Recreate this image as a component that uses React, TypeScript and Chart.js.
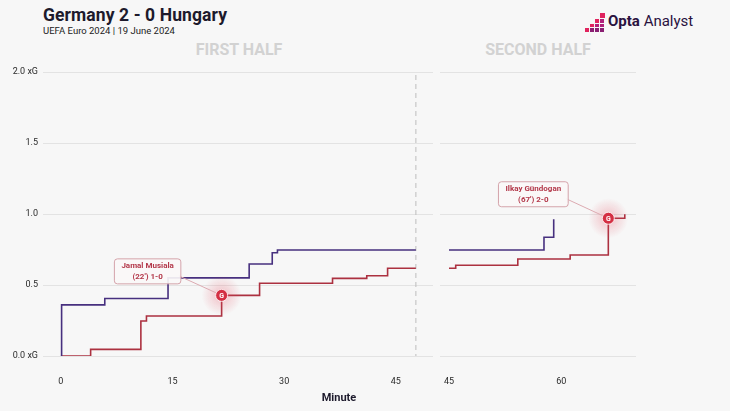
import React, { useEffect, useRef } from 'react';
import { Chart, registerables } from 'chart.js';

Chart.register(...registerables);

const FONT = 'Roboto, "Noto Sans", sans-serif';

// ---- data ----
const yTickValues = [0, 0.5, 1, 1.5, 2];
const firstHalfTicks = [0, 15, 30, 45];
const secondHalfTicks = [45, 60];

const firstHalfRange = [-2.4, 50];
const secondHalfRange = [43.8, 70];
const firstHalfEnd = 47.7;

const hungaryMin1 = [0, 0.1, 5.9, 14.4, 25.3, 28.4, 29.1, 47.7];
const hungaryXg1 = [0, 0.36, 0.405, 0.55, 0.648, 0.727, 0.746, 0.746];
const germanyMin1 = [0, 4.0, 10.75, 11.5, 21.6, 26.7, 36.5, 41.1, 43.9, 47.7];
const germanyXg1 = [0, 0.047, 0.246, 0.282, 0.427, 0.512, 0.547, 0.565, 0.618, 0.618];

const hungaryMin2 = [45, 57.7, 59.0];
const hungaryXg2 = [0.746, 0.836, 0.963];
const germanyMin2 = [45, 45.9, 54.2, 61.2, 66.3, 68.5];
const germanyXg2 = [0.618, 0.639, 0.683, 0.711, 0.97, 0.998];

const goalsFirst = [{ minute: 21.6, xg: 0.427, name: 'Jamal Musiala', detail: "(22') 1-0", dx: -74, dy: -24 }];
const goalsSecond = [{ minute: 66.3, xg: 0.97, name: 'Ilkay Gündogan', detail: "(67') 2-0", dx: -75, dy: -24 }];

const GERMANY = '#ac3140';
const HUNGARY = '#47307f';

function pts(mins: number[], vals: number[]) {
  return mins.map((m, i) => ({ x: m, y: vals[i] }));
}

function goalPlugin(goals: any[], halfEnd: number | null) {
  return {
    id: 'goalsAndDivider',
    beforeDatasetsDraw(chart: any) {
      if (halfEnd === null) return;
      const { ctx, scales, chartArea } = chart;
      const px = scales.x.getPixelForValue(halfEnd);
      ctx.save();
      ctx.strokeStyle = '#bdbdbd';
      ctx.lineWidth = 1;
      ctx.setLineDash([5, 4]);
      ctx.beginPath();
      ctx.moveTo(px, chartArea.top + 3);
      ctx.lineTo(px, chartArea.bottom);
      ctx.stroke();
      ctx.restore();
    },
    afterDatasetsDraw(chart: any) {
      const { ctx, scales } = chart;
      goals.forEach((g) => {
        const px = scales.x.getPixelForValue(g.minute);
        const py = scales.y.getPixelForValue(g.xg);
        ctx.save();
        // glow
        const grad = ctx.createRadialGradient(px, py, 0, px, py, 20);
        grad.addColorStop(0, 'rgba(228,70,90,0.32)');
        grad.addColorStop(1, 'rgba(228,70,90,0)');
        ctx.fillStyle = grad;
        ctx.beginPath();
        ctx.arc(px, py, 20, 0, Math.PI * 2);
        ctx.fill();
        // box
        ctx.font = `bold 8px ${FONT}`;
        const w = Math.max(ctx.measureText(g.name).width, ctx.measureText(g.detail).width) + 14;
        const h = 25;
        const cx = px + g.dx;
        const cy = py + g.dy;
        const bx = cx - w / 2;
        const by = cy - h / 2;
        // connector
        ctx.strokeStyle = '#dcaab1';
        ctx.lineWidth = 1;
        ctx.beginPath();
        ctx.moveTo(bx + w - 2, by + h - 8);
        ctx.lineTo(px, py);
        ctx.stroke();
        ctx.fillStyle = 'rgba(250,247,247,0.92)';
        ctx.strokeStyle = '#d4a3aa';
        ctx.beginPath();
        ctx.roundRect(bx, by, w, h, 3);
        ctx.fill();
        ctx.stroke();
        ctx.fillStyle = '#b3384a';
        ctx.textAlign = 'center';
        ctx.textBaseline = 'middle';
        ctx.fillText(g.name, cx, cy - 5.5);
        ctx.fillText(g.detail, cx, cy + 6);
        // marker
        ctx.beginPath();
        ctx.arc(px, py, 6, 0, Math.PI * 2);
        ctx.fillStyle = '#d42f43';
        ctx.fill();
        ctx.strokeStyle = 'rgba(255,255,255,0.8)';
        ctx.lineWidth = 1;
        ctx.stroke();
        ctx.fillStyle = '#ffffff';
        ctx.font = `bold 7px ${FONT}`;
        ctx.fillText('G', px, py + 0.5);
        ctx.restore();
      });
    },
  };
}

function makeConfig(opts: {
  hMin: number[]; hXg: number[]; gMin: number[]; gXg: number[];
  range: number[]; ticks: number[]; showY: boolean; rightPad: number;
  goals: any[]; halfEnd: number | null;
}): any {
  return {
    type: 'line',
    data: {
      datasets: [
        {
          label: 'Hungary',
          data: pts(opts.hMin, opts.hXg),
          borderColor: HUNGARY,
          borderWidth: 1.6,
          stepped: 'before',
          pointRadius: 0,
          fill: false,
        },
        {
          label: 'Germany',
          data: pts(opts.gMin, opts.gXg),
          borderColor: GERMANY,
          borderWidth: 1.6,
          stepped: 'before',
          pointRadius: 0,
          fill: false,
        },
      ],
    },
    options: {
      responsive: false,
      animation: false,
      devicePixelRatio: 1,
      layout: { padding: { top: 72, right: opts.rightPad, left: 0, bottom: 0 } },
      plugins: { legend: { display: false }, tooltip: { enabled: false }, title: { display: false } },
      scales: {
        x: {
          type: 'linear',
          min: opts.range[0],
          max: opts.range[1],
          afterFit: (s: any) => { s.height = 55; s.paddingLeft = 0; s.paddingRight = 0; },
          afterBuildTicks: (s: any) => { s.ticks = opts.ticks.map((v) => ({ value: v })); },
          grid: { display: false },
          border: { display: false },
          ticks: {
            padding: 12,
            color: '#2a2a2a',
            font: { family: FONT, size: 9 },
            callback: (v: any) => String(v),
          },
        },
        y: {
          min: 0,
          max: 2,
          afterFit: (s: any) => { s.width = opts.showY ? 43 : 0; s.paddingTop = 0; s.paddingBottom = 0; },
          afterBuildTicks: (s: any) => { s.ticks = yTickValues.map((v) => ({ value: v })); },
          grid: { color: '#e3e3e3', lineWidth: 1, drawTicks: false },
          border: { display: false },
          ticks: {
            display: opts.showY,
            padding: 5,
            color: '#2a2a2a',
            font: { family: FONT, size: 9 },
            callback: (v: any) => (v === 0 || v === 2 ? `${v.toFixed(1)} xG` : Number(v).toFixed(1)),
          },
        },
      },
    },
    plugins: [goalPlugin(opts.goals, opts.halfEnd)],
  };
}

export default function App() {
  const ref1 = useRef<HTMLCanvasElement>(null);
  const ref2 = useRef<HTMLCanvasElement>(null);

  useEffect(() => {
    const c1 = new Chart(ref1.current as HTMLCanvasElement, makeConfig({
      hMin: hungaryMin1, hXg: hungaryXg1, gMin: germanyMin1, gXg: germanyXg1,
      range: firstHalfRange, ticks: firstHalfTicks, showY: true, rightPad: 7,
      goals: goalsFirst, halfEnd: firstHalfEnd,
    }));
    const c2 = new Chart(ref2.current as HTMLCanvasElement, makeConfig({
      hMin: hungaryMin2, hXg: hungaryXg2, gMin: germanyMin2, gXg: germanyXg2,
      range: secondHalfRange, ticks: secondHalfTicks, showY: false, rightPad: 94,
      goals: goalsSecond, halfEnd: null,
    }));
    return () => { c1.destroy(); c2.destroy(); };
  }, []);

  const logoSquares: { x: number; y: number; s: number; c: string }[] = [];
  const cols = [1, 2, 3, 4];
  cols.forEach((n, i) => {
    for (let k = 0; k < n; k++) {
      const top = k === n - 1;
      logoSquares.push({
        x: 585 + i * 5,
        y: 28 - k * 4.5,
        s: i === 3 && top ? 5 : 3.5,
        c: top ? '#e0245e' : (k === 0 ? '#8a1f72' : '#b0207a'),
      });
    }
  });

  return (
    <div style={{ position: 'fixed', left: 0, top: 0, width: 730, height: 411, background: '#f7f7f7', overflow: 'hidden', fontFamily: FONT }}>
      <div style={{ position: 'absolute', left: 43, top: 5, fontSize: 17.5, fontWeight: 700, color: '#1d1a2c', letterSpacing: 0.1 }}>Germany 2 - 0 Hungary</div>
      <div style={{ position: 'absolute', left: 43, top: 25, fontSize: 9.5, color: '#222' }}>UEFA Euro 2024 | 19 June 2024</div>
      {logoSquares.map((q, i) => (
        <div key={i} style={{ position: 'absolute', left: q.x, top: q.y - (q.s - 3.5), width: q.s, height: q.s, background: q.c }} />
      ))}
      <div style={{ position: 'absolute', left: 608, top: 12, fontSize: 15, color: '#2a1240', whiteSpace: 'nowrap' }}>
        <span style={{ fontWeight: 700 }}>Opta</span> <span>Analyst</span>
      </div>
      <div style={{ position: 'absolute', left: 239, top: 40, transform: 'translateX(-50%)', fontSize: 16, fontWeight: 700, color: '#d2d2d2', whiteSpace: 'nowrap' }}>FIRST HALF</div>
      <div style={{ position: 'absolute', left: 538, top: 40, transform: 'translateX(-50%)', fontSize: 16, fontWeight: 700, color: '#d2d2d2', whiteSpace: 'nowrap' }}>SECOND HALF</div>
      <canvas ref={ref1} width={440} height={411} style={{ position: 'absolute', left: 0, top: 0, width: 440, height: 411 }} />
      <canvas ref={ref2} width={290} height={411} style={{ position: 'absolute', left: 440, top: 0, width: 290, height: 411 }} />
      <div style={{ position: 'absolute', left: 339, top: 391, transform: 'translateX(-50%)', fontSize: 11, fontWeight: 700, color: '#1d1a2c' }}>Minute</div>
    </div>
  );
}
